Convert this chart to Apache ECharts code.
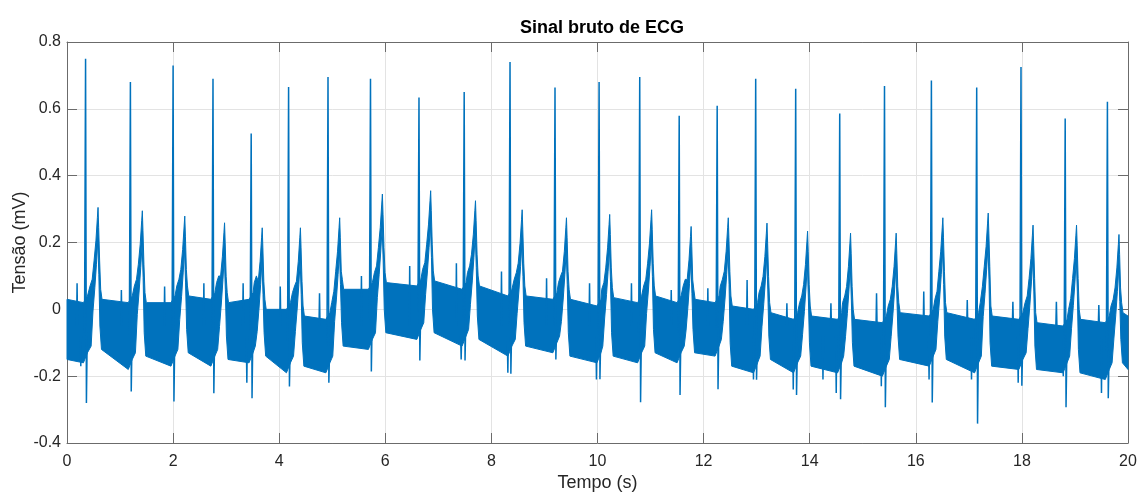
<!DOCTYPE html>
<html>
<head>
<meta charset="utf-8">
<script src="https://cdn.jsdelivr.net/npm/echarts@6/dist/echarts.min.js"></script>
<style>
html,body{margin:0;padding:0;background:#fff;}
#chart{width:1137px;height:492px;}
</style>
</head>
<body>
<div id="chart"></div>
<script>
// ---- data ----
const xTicks = [0, 2, 4, 6, 8, 10, 12, 14, 16, 18, 20];
const yTicks = [-0.4, -0.2, 0, 0.2, 0.4, 0.6, 0.8];

// R peaks (time, amplitude) and S dips
const rTimes = [0.35, 1.195, 2.00, 2.752, 3.472, 4.177, 4.92, 5.721, 6.635, 7.487, 8.351, 9.199, 10.03, 10.796, 11.54, 12.256, 12.982, 13.736, 14.566, 15.41, 16.294, 17.148, 17.983, 18.816, 19.612];
const rPeaks = [0.750, 0.680, 0.730, 0.690, 0.526, 0.665, 0.695, 0.690, 0.634, 0.650, 0.740, 0.664, 0.680, 0.695, 0.579, 0.609, 0.690, 0.660, 0.586, 0.668, 0.685, 0.664, 0.725, 0.571, 0.621];
const sDips  = [-0.280, -0.246, -0.276, -0.251, -0.266, -0.231, -0.220, -0.186, -0.153, -0.153, -0.193, -0.150, -0.209, -0.278, -0.256, -0.239, -0.211, -0.256, -0.269, -0.293, -0.279, -0.342, -0.229, -0.293, -0.266];

// T waves (time, amplitude)
const tTimes = [0.585, 1.42, 2.22, 2.97, 3.68, 4.40, 5.14, 5.945, 6.855, 7.70, 8.58, 9.415, 10.23, 11.02, 11.765, 12.465, 13.195, 13.96, 14.77, 15.63, 16.51, 17.365, 18.21, 19.03, 19.83];
const tPeaks = [0.305, 0.295, 0.279, 0.259, 0.244, 0.244, 0.274, 0.345, 0.355, 0.325, 0.298, 0.274, 0.284, 0.298, 0.248, 0.274, 0.258, 0.234, 0.228, 0.228, 0.274, 0.288, 0.252, 0.252, 0.224];

// noise band between beats: upper / lower envelope just after the T wave and just before the next R
const gapEarlyHi = [0.03, 0.03, 0.02, 0.04, 0.02, 0.00, -0.02, 0.06, 0.08, 0.085, 0.07, 0.04, 0.03, 0.035, 0.04, 0.03, 0.01, -0.01, -0.02, -0.03, -0.01, -0.01, -0.02, -0.04, -0.03, -0.01];
const gapEarlyLo = [-0.15, -0.12, -0.14, -0.13, -0.15, -0.14, -0.17, -0.11, -0.07, -0.07, -0.09, -0.11, -0.14, -0.14, -0.13, -0.13, -0.17, -0.15, -0.17, -0.17, -0.15, -0.15, -0.17, -0.18, -0.19, -0.16];
const gapLateHi  = [0.02, 0.02, 0.02, 0.03, 0.03, 0.00, -0.03, 0.06, 0.07, 0.06, 0.04, 0.03, 0.01, 0.02, 0.02, 0.02, 0.00, -0.03, -0.03, -0.04, -0.02, -0.03, -0.03, -0.05, -0.04, -0.02];
const gapLateLo  = [-0.16, -0.18, -0.17, -0.17, -0.16, -0.19, -0.19, -0.12, -0.09, -0.11, -0.14, -0.13, -0.16, -0.16, -0.16, -0.14, -0.19, -0.19, -0.19, -0.20, -0.17, -0.19, -0.18, -0.19, -0.21, -0.18];

// isolated noise spikes visible above / below the band
const upSpikeT = [0.19, 1.025, 1.84, 2.58, 3.32, 4.02, 4.76, 5.55, 6.46, 7.34, 8.19, 9.04, 9.85, 10.64, 11.39, 12.08, 12.82, 13.57, 14.40, 15.26, 16.15, 16.97, 17.83, 18.65, 19.45];
const upSpikeV = [0.078, 0.058, 0.068, 0.078, 0.078, 0.068, 0.048, 0.100, 0.130, 0.138, 0.113, 0.093, 0.078, 0.078, 0.058, 0.063, 0.088, 0.018, 0.018, 0.048, 0.053, 0.028, 0.023, 0.023, 0.013];
const downSpikeT = [0.26, 3.39, 7.43, 8.31, 9.98, 12.94, 13.69, 14.25, 14.50, 15.35, 16.25, 17.05, 17.93, 18.78, 19.50];
const downSpikeV = [-0.17, -0.22, -0.15, -0.19, -0.21, -0.21, -0.24, -0.21, -0.25, -0.23, -0.21, -0.21, -0.22, -0.20, -0.25];

// ---- build band edges and spike line from the values above ----
const hiEdge = [], loEdge = [];
hiEdge.push([0, gapEarlyHi[0]]); loEdge.push([0, gapEarlyLo[0]]);
for (let i = 0; i < rTimes.length; i++) {
  const tR = rTimes[i], tT = tTimes[i], P = tPeaks[i];
  const eHi = gapEarlyHi[i + 1], eLo = gapEarlyLo[i + 1];
  hiEdge.push([tR - 0.04, gapLateHi[i]]); loEdge.push([tR - 0.04, gapLateLo[i]]);
  const stHi = gapLateHi[i] + 0.02, stLo = gapLateLo[i] + 0.03;
  hiEdge.push(
    [tR + 0.035, stHi],
    [tT - 0.15, stHi + 0.03],
    [tT - 0.11, Math.max(P - 0.22, stHi + 0.05)],
    [tT - 0.075, P - 0.16],
    [tT - 0.04, P - 0.1],
    [tT - 0.012, P - 0.03],
    [tT, P],
    [tT + 0.012, P - 0.06],
    [tT + 0.03, P - 0.16],
    [tT + 0.05, eHi + 0.03],
    [tT + 0.075, eHi]
  );
  loEdge.push(
    [tR + 0.035, stLo],
    [tT - 0.13, stLo + 0.02],
    [tT - 0.095, Math.max(P - 0.31, stLo + 0.04)],
    [tT - 0.06, P - 0.24],
    [tT - 0.03, P - 0.17],
    [tT - 0.005, P - 0.1],
    [tT + 0.015, P - 0.2],
    [tT + 0.035, eLo + 0.07],
    [tT + 0.065, eLo]
  );
}
hiEdge.push([20, gapLateHi[25]]); loEdge.push([20, gapLateLo[25]]);

const spikeLine = [];
for (let i = 0; i < rTimes.length; i++) {
  const tR = rTimes[i];
  const mid = (gapLateHi[i] + gapLateLo[i]) / 2;
  spikeLine.push([tR - 0.02, mid], [tR - 0.004, mid], [tR, rPeaks[i]], [tR + 0.016, sDips[i]], [tR + 0.032, mid], null);
}
for (let i = 0; i < upSpikeT.length; i++) {
  spikeLine.push([upSpikeT[i] - 0.01, -0.05], [upSpikeT[i], upSpikeV[i]], [upSpikeT[i] + 0.01, -0.05], null);
}
for (let i = 0; i < downSpikeT.length; i++) {
  spikeLine.push([downSpikeT[i] - 0.01, -0.08], [downSpikeT[i], downSpikeV[i]], [downSpikeT[i] + 0.01, -0.08], null);
}

const blue = '#0072BD';
const axisCol = '#6b6b6b';
const textCol = '#262626';
const font = "'Liberation Sans', Arial, Helvetica, sans-serif";

const chart = echarts.init(document.getElementById('chart'), null, {renderer: 'canvas'});
const fmtY = v => String(Math.round(v * 10) / 10);

const xBase = {
  type: 'value', min: xTicks[0], max: xTicks[xTicks.length - 1], interval: xTicks[1] - xTicks[0],
  axisLine: {show: true, onZero: false, lineStyle: {color: axisCol, width: 1}},
  axisTick: {show: true, inside: true, length: 10, lineStyle: {color: axisCol}},
};
const yBase = {
  type: 'value', min: yTicks[0], max: yTicks[yTicks.length - 1], interval: 0.2,
  axisLine: {show: true, onZero: false, lineStyle: {color: axisCol, width: 1}},
  axisTick: {show: true, inside: true, length: 10, lineStyle: {color: axisCol}},
};

chart.setOption({
  animation: false,
  backgroundColor: '#ffffff',
  title: {
    text: 'Sinal bruto de ECG', left: 597, top: 14, textAlign: 'center',
    textStyle: {fontFamily: font, fontSize: 18, fontWeight: 'bold', color: '#000'}
  },
  grid: {left: 67, right: 9, top: 42, bottom: 49, containLabel: false, outerBoundsMode: 'none'},
  xAxis: [
    Object.assign({}, xBase, {
      position: 'bottom',
      name: 'Tempo (s)', nameLocation: 'middle', nameGap: 31, nameMoveOverlap: false,
      nameTextStyle: {fontFamily: font, fontSize: 18, color: textCol},
      axisLabel: {show: true, margin: 11, fontFamily: font, fontSize: 16, color: textCol},
      splitLine: {show: true, lineStyle: {color: '#e3e3e3', width: 1}}
    }),
    Object.assign({}, xBase, {
      position: 'top', axisLabel: {show: false}, splitLine: {show: false}
    })
  ],
  yAxis: [
    Object.assign({}, yBase, {
      position: 'left',
      name: 'Tensão (mV)', nameLocation: 'middle', nameGap: 38, nameMoveOverlap: false,
      nameTextStyle: {fontFamily: font, fontSize: 18, color: textCol},
      axisLabel: {show: true, margin: 6, fontFamily: font, fontSize: 16, color: textCol, formatter: fmtY},
      splitLine: {show: true, lineStyle: {color: '#e3e3e3', width: 1}}
    }),
    Object.assign({}, yBase, {
      position: 'right', axisLabel: {show: false}, splitLine: {show: false}
    })
  ],
  series: [
    {
      type: 'custom', xAxisIndex: 0, yAxisIndex: 0, silent: true, z: 2,
      data: [[0, 0]],
      renderItem: function (params, api) {
        const pts = hiEdge.map(p => api.coord(p)).concat(loEdge.slice().reverse().map(p => api.coord(p)));
        return {type: 'polygon', shape: {points: pts}, style: {fill: blue, stroke: blue, lineWidth: 1}};
      }
    },
    {
      type: 'line', xAxisIndex: 0, yAxisIndex: 0, z: 3,
      data: spikeLine, showSymbol: false, symbol: 'none', connectNulls: false,
      lineStyle: {color: blue, width: 1.5}
    }
  ]
});
</script>
</body>
</html>
